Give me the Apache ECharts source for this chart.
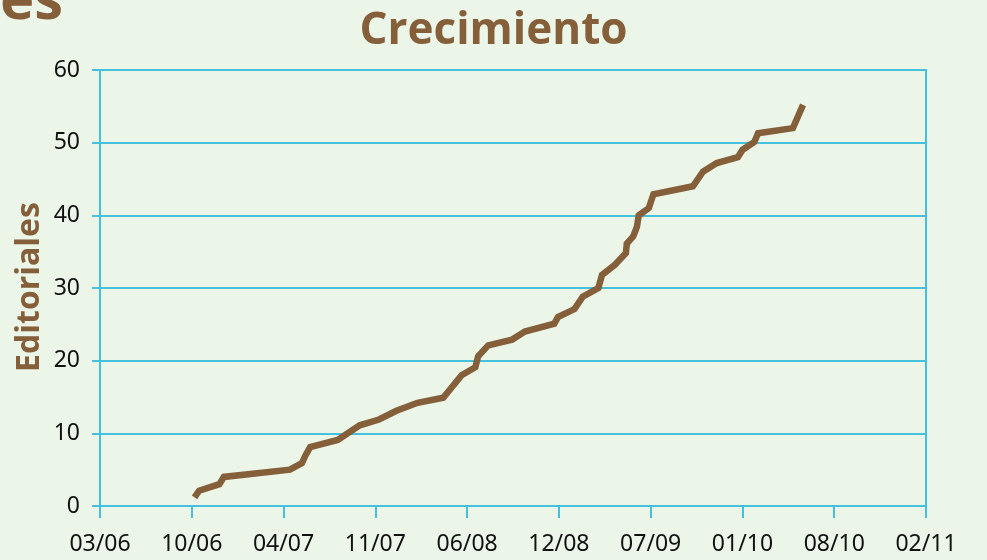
<!DOCTYPE html>
<html>
<head>
<meta charset="utf-8">
<script src="https://cdn.jsdelivr.net/npm/echarts@6/dist/echarts.min.js"></script>
<style>
html,body{margin:0;padding:0;background:#ebf5e8;}
#c{width:987px;height:560px;}
</style>
</head>
<body>
<div id="c"></div>
<script>
// x positions in units of tick intervals (0 = 03/06, 9 = 02/11)
const tickLabels = ['03/06','10/06','04/07','11/07','06/08','12/08','07/09','01/10','08/10','02/11'];
const xPos = [1.03,1.08,1.30,1.35,2.07,2.20,2.24,2.29,2.59,2.83,3.04,3.23,3.46,3.74,3.94,4.09,4.12,4.23,4.49,4.63,4.95,4.99,5.17,5.26,5.43,5.47,5.61,5.73,5.74,5.81,5.85,5.87,5.98,6.03,6.46,6.57,6.72,6.95,7.00,7.13,7.17,7.55,7.66];
const editoriales = [1.2,2.1,3,4,5,5.9,7,8.1,9.1,11.1,11.9,13.1,14.2,14.9,18,19.1,20.6,22.1,22.9,24,25.1,26,27.1,28.8,30,31.8,33.2,34.8,36.1,37.1,38.4,40,41,42.9,44,46,47.2,48,49,50.1,51.3,52,55.2];
const yTicks = [0,10,20,30,40,50,60];
const yAxisName = 'Editoriales';

const brown = '#845f3a';
const cyan = '#45c1dd';
const chart = echarts.init(document.getElementById('c'));
chart.setOption({
  backgroundColor: '#ebf5e8',
  animation: false,
  title: {
    text: 'Crecimiento', left: 'center', top: 4,
    textStyle: {color: brown, fontFamily: 'Open Sans', fontWeight: 'bold', fontSize: 44}
  },
  graphic: [{
    type: 'text', left: 0, top: -27,
    style: {text: 'es', fill: brown, font: 'bold 58px "Open Sans"'}
  }, {
    type: 'text', x: 30, y: 287, rotation: Math.PI / 2,
    style: {text: yAxisName, fill: brown, font: 'bold 32px "Open Sans"', align: 'center', verticalAlign: 'middle'}
  }],
  grid: {left: 100, right: 61, top: 70, bottom: 54, show: true, borderColor: cyan, borderWidth: 2, backgroundColor: 'transparent'},
  xAxis: {
    type: 'value', min: 0, max: 9, interval: 1,
    axisLine: {show: true, lineStyle: {color: cyan, width: 2}},
    axisTick: {show: true, length: 12, lineStyle: {color: cyan, width: 2}},
    splitLine: {show: false},
    axisLabel: {color: '#111', fontFamily: 'Noto Sans', fontSize: 23, margin: 27,
      formatter: v => tickLabels[Math.round(v)] || ''}
  },
  yAxis: {
    type: 'value', min: yTicks[0], max: yTicks[yTicks.length-1], interval: 10,
    axisLine: {show: true, lineStyle: {color: cyan, width: 2}},
    axisTick: {show: true, length: 8, lineStyle: {color: cyan, width: 2}},
    splitLine: {show: true, lineStyle: {color: cyan, width: 2}},
    axisLabel: {color: '#111', fontFamily: 'Noto Sans', fontSize: 23, margin: 20}
  },
  series: [{
    type: 'line', showSymbol: false,
    data: xPos.map((x, i) => [x, editoriales[i]]),
    lineStyle: {color: brown, width: 6.5, join: 'miter'}
  }]
});
</script>
</body>
</html>
